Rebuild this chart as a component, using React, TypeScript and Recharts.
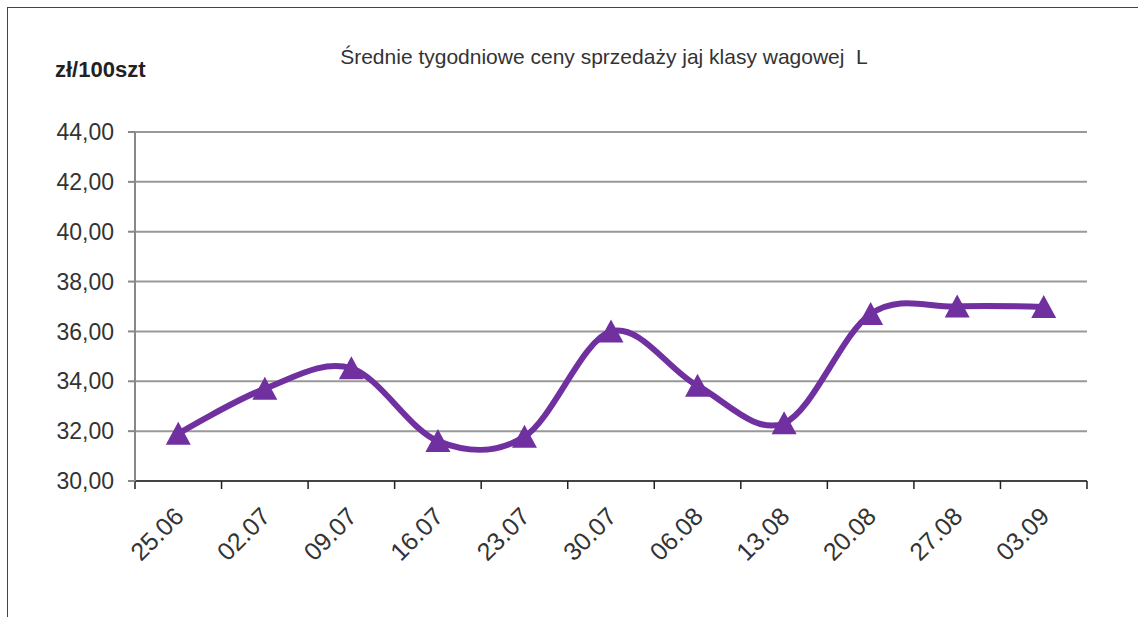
import React from 'react'
import { LineChart, Line, XAxis, YAxis, CartesianGrid } from 'recharts'

const weeks = ['25.06', '02.07', '09.07', '16.07', '23.07', '30.07', '06.08', '13.08', '20.08', '27.08', '03.09']
const prices = [31.9, 33.7, 34.52, 31.6, 31.78, 36.0, 33.82, 32.32, 36.7, 37.0, 36.98]
const yTicks = [30, 32, 34, 36, 38, 40, 42, 44]
const edgeTicks = [0, 1, 2, 3, 4, 5, 6, 7, 8, 9, 10, 11]

const data = weeks.map((week, i) => ({ week, i, price: prices[i] }))

const PURPLE = '#7030A0'
const FONT = '"Liberation Sans", Arial, sans-serif'

// smooth line like Excel's "smoothed line" (cardinal spline, tension 0)
const smoothCurve = (context: any) => {
  const k = 1 / 6
  let x0 = NaN, y0 = NaN, x1 = NaN, y1 = NaN, x2 = NaN, y2 = NaN
  let pt = 0
  let line = NaN
  const seg = (x: number, y: number) => {
    context.bezierCurveTo(
      x1 + k * (x2 - x0),
      y1 + k * (y2 - y0),
      x2 + k * (x1 - x),
      y2 + k * (y1 - y),
      x2,
      y2
    )
  }
  return {
    areaStart() { line = 0 },
    areaEnd() { line = NaN },
    lineStart() {
      x0 = x1 = x2 = y0 = y1 = y2 = NaN
      pt = 0
    },
    lineEnd() {
      if (pt === 2) context.lineTo(x2, y2)
      else if (pt === 3) seg(x1, y1)
      if (line || (line !== 0 && pt === 1)) context.closePath()
      line = 1 - line
    },
    point(x: number, y: number) {
      x = +x
      y = +y
      if (pt === 0) {
        pt = 1
        line ? context.lineTo(x, y) : context.moveTo(x, y)
      } else if (pt === 1) {
        pt = 2
        x1 = x
        y1 = y
      } else {
        pt = 3
        seg(x, y)
      }
      x0 = x1; x1 = x2; x2 = x
      y0 = y1; y1 = y2; y2 = y
    },
  }
}

const Triangle = (props: any) => {
  const { cx, cy, index } = props
  if (cx == null || cy == null) return <g key={index} />
  return (
    <path
      key={index}
      d={`M${cx},${cy - 12} L${cx + 12.5},${cy + 11} L${cx - 12.5},${cy + 11} Z`}
      fill={PURPLE}
    />
  )
}

const WeekTick = (props: any) => {
  const { x, y, payload } = props
  return (
    <g transform={`translate(${x + 7},${y + 28})`}>
      <text
        x={0}
        y={0}
        textAnchor="end"
        transform="rotate(-45)"
        fontSize={25}
        fill="#333"
        fontFamily={FONT}
      >
        {payload.value}
      </text>
    </g>
  )
}

// boundary ticks carry no label
const NoLabel = () => <g />

export default function App() {
  return (
    <div
      style={{
        position: 'absolute',
        left: 0,
        top: 0,
        width: 1138,
        height: 617,
        background: '#fff',
        fontFamily: FONT,
        overflow: 'hidden',
      }}
    >
      <div
        style={{
          position: 'absolute',
          left: 7,
          top: 7,
          right: -2,
          bottom: -2,
          borderLeft: '1px solid #444',
          borderTop: '1px solid #444',
        }}
      />
      <div
        style={{
          position: 'absolute',
          left: 204,
          width: 800,
          top: 45,
          textAlign: 'center',
          fontSize: 21,
          color: '#333',
          whiteSpace: 'pre',
        }}
      >
        {'Średnie tygodniowe ceny sprzedaży jaj klasy wagowej  L'}
      </div>
      <div
        style={{
          position: 'absolute',
          left: 55,
          top: 57,
          fontSize: 22,
          fontWeight: 'bold',
          color: '#222',
        }}
      >
        zł/100szt
      </div>
      <div style={{ position: 'absolute', left: 0, top: 0 }}>
        <LineChart
          width={1138}
          height={617}
          data={data}
          margin={{ top: 132, right: 51, left: 0, bottom: 0 }}
        >
          <CartesianGrid
            vertical={false}
            stroke="#999"
            strokeWidth={2}
            yAxisId="price"
            xAxisId="weeks"
          />
          <XAxis
            xAxisId="edges"
            dataKey="i"
            type="number"
            domain={[0, 11]}
            ticks={edgeTicks}
            interval={0}
            height={1}
            axisLine={{ stroke: '#444', strokeWidth: 2 }}
            tickLine={{ stroke: '#222', strokeWidth: 1.5 }}
            tickSize={8}
            tick={<NoLabel />}
          />
          <XAxis
            xAxisId="weeks"
            dataKey="week"
            scale="band"
            height={135}
            axisLine={false}
            tickLine={false}
            interval={0}
            tick={<WeekTick />}
          />
          <YAxis
            yAxisId="price"
            width={135}
            domain={[30, 44]}
            ticks={yTicks}
            interval={0}
            axisLine={{ stroke: '#888', strokeWidth: 2 }}
            tickLine={{ stroke: '#888', strokeWidth: 2 }}
            tickSize={7}
            tickFormatter={(v: number) => v.toFixed(2).replace('.', ',')}
            tick={{ fontSize: 23, fill: '#333', fontFamily: FONT, dx: -12 }}
          />
          <Line
            xAxisId="edges"
            yAxisId="price"
            dataKey="price"
            stroke="none"
            dot={false}
            activeDot={false}
            isAnimationActive={false}
            legendType="none"
          />
          <Line
            xAxisId="weeks"
            yAxisId="price"
            dataKey="price"
            type={smoothCurve as any}
            stroke={PURPLE}
            strokeWidth={6}
            dot={<Triangle />}
            activeDot={false}
            isAnimationActive={false}
          />
        </LineChart>
      </div>
    </div>
  )
}
